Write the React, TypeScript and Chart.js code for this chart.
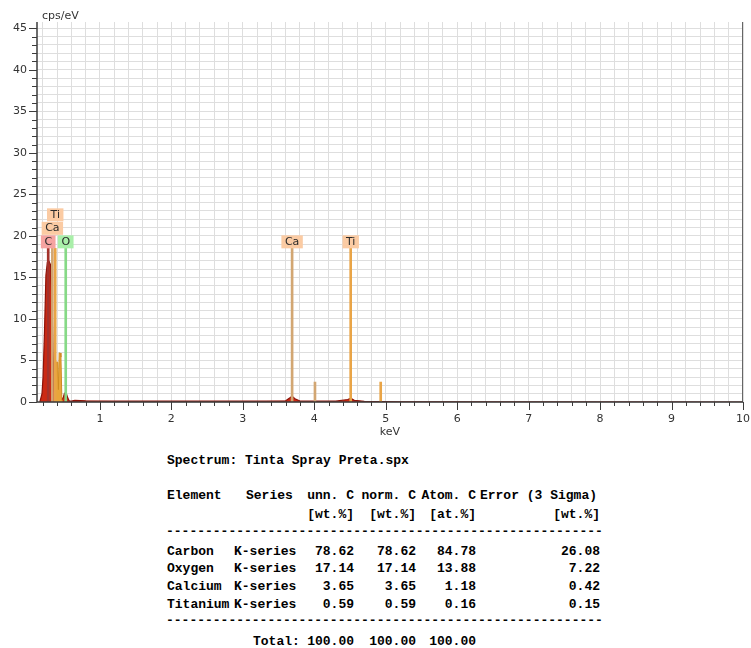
import React, { useEffect, useRef } from "react";
import { Chart, registerables } from "chart.js";

Chart.register(...registerables);

// ---- axis ranges ----
const xMin = 0.12;
const xMax = 10;
const xStep = 0.2;
const yMin = 0;
const yMax = 45.75;
const yStep = 1;
const yLabelEvery = 5;
const yAxisTitle = "cps/eV";
const xAxisTitle = "keV";

// ---- spectrum (dark red part: C K, O K and baseline) ----
const redSpectrumEnergy = [0.16, 0.19, 0.205, 0.225, 0.245, 0.265, 0.29, 0.31, 0.33, 0.345, 0.36, 0.38, 0.47, 0.49, 0.505, 0.52, 0.535, 0.55, 0.57, 0.6, 0.65, 0.8, 1.2, 2.0, 3.0, 3.6, 3.66, 3.69, 3.73, 3.8, 4.3, 4.47, 4.51, 4.56, 4.7, 5.2, 10];
const redSpectrumCounts = [0, 1, 3, 8.5, 15.3, 16.8, 16.9, 16.5, 12, 6, 1.5, 0.3, 0.3, 0.6, 1.05, 1.1, 0.9, 0.5, 0.15, 0.1, 0.2, 0.15, 0.12, 0.1, 0.1, 0.15, 0.5, 0.7, 0.4, 0.12, 0.1, 0.3, 0.45, 0.2, 0.08, 0.03, 0];

// ---- spectrum (orange part: Ca L / Ti L) ----
const orangeSpectrumEnergy = [0.37, 0.385, 0.41, 0.42, 0.43, 0.445, 0.455, 0.468, 0.48];
const orangeSpectrumCounts = [0, 4.8, 4.8, 1.5, 5.9, 5.9, 5.4, 0.3, 0];

// ---- element lines ----
const lineElement = ["C", "Ca", "Ti", "O", "Ca", "Ca", "Ti", "Ti"];
const lineEnergy = [0.277, 0.335, 0.375, 0.522, 3.69, 4.01, 4.51, 4.93];
const lineIntensity = [18.5, 18.5, 18.5, 18.5, 18.5, 2.4, 18.5, 2.4];
const lineLabeled = [true, true, true, true, true, false, true, false];

const elementLineColor: Record<string, string> = { C: "#a3322b", Ca: "#d2a672", Ti: "#e9a446", O: "#86d986" };
const elementBoxColor: Record<string, string> = { C: "#f5a3a0", Ca: "#fbcba3", Ti: "#fbcba3", O: "#a9efa9" };

// ---- quantification table ----
const spectrumTitle = "Spectrum: Tinta Spray Preta.spx";
const headerCols = ["Element", "Series", "unn. C", "norm. C", "Atom. C", "Error (3 Sigma)"];
const unitCols = ["[wt.%]", "[wt.%]", "[at.%]", "[wt.%]"];
const tableElements = ["Carbon", "Oxygen", "Calcium", "Titanium"];
const tableSeries = ["K-series", "K-series", "K-series", "K-series"];
const unnC = ["78.62", "17.14", "3.65", "0.59"];
const normC = ["78.62", "17.14", "3.65", "0.59"];
const atomC = ["84.78", "13.88", "1.18", "0.16"];
const errorC = ["26.08", "7.22", "0.42", "0.15"];
const totalLabel = "Total:";
const totals = ["100.00", "100.00", "100.00"];
const dashLine = "-".repeat(56);

const tickFont = { family: "'DejaVu Sans', Verdana, sans-serif", size: 11 };

const xTickValues: number[] = [];
for (let i = 1; i <= Math.round(xMax / xStep); i++) xTickValues.push(Math.round(i * xStep * 1000) / 1000);
const yTickValues: number[] = [];
for (let i = 0; i <= Math.floor(yMax / yStep); i++) yTickValues.push(i * yStep);

const overlayPlugin = {
  id: "overlay",
  afterDatasetsDraw(chart: any) {
    const ctx: CanvasRenderingContext2D = chart.ctx;
    const { left, right, top, bottom } = chart.chartArea;
    const xs = chart.scales.x;
    const ys = chart.scales.y;
    ctx.save();
    // right border
    ctx.strokeStyle = "#666";
    ctx.lineWidth = 1;
    ctx.beginPath();
    ctx.moveTo(Math.round(right) - 0.5, top);
    ctx.lineTo(Math.round(right) - 0.5, bottom);
    ctx.stroke();
    // axis lines
    ctx.strokeStyle = "#3c3c3c";
    ctx.lineWidth = 1.5;
    ctx.beginPath();
    ctx.moveTo(left, top);
    ctx.lineTo(left, bottom);
    ctx.lineTo(right, bottom);
    ctx.stroke();
    // tick marks
    ctx.lineWidth = 1;
    ctx.beginPath();
    xTickValues.forEach((v) => {
      const major = Math.abs(v - Math.round(v)) < 1e-6;
      const px = Math.round(xs.getPixelForValue(v)) + 0.5;
      ctx.moveTo(px, bottom);
      ctx.lineTo(px, bottom + (major ? 8 : 4));
    });
    yTickValues.forEach((v) => {
      const major = v % yLabelEvery === 0;
      const py = Math.round(ys.getPixelForValue(v)) + 0.5;
      ctx.moveTo(left, py);
      ctx.lineTo(left - (major ? 8 : 5), py);
    });
    ctx.stroke();

    // axis titles
    ctx.fillStyle = "#333";
    ctx.font = `11px ${tickFont.family}`;
    ctx.textBaseline = "middle";
    ctx.textAlign = "left";
    ctx.fillText(yAxisTitle, left + 5, top - 6);
    ctx.textAlign = "center";
    ctx.fillText(xAxisTitle, (left + right) / 2, bottom + 30);

    // element labels
    const meta = chart.getDatasetMeta(0);
    const placed: { l: number; r: number; level: number }[] = [];
    const boxH = 13.5;
    meta.data.forEach((el: any, i: number) => {
      if (!lineLabeled[i]) return;
      const name = lineElement[i];
      const w = ctx.measureText(name).width + 7;
      const l = el.x - w / 2;
      const r = el.x + w / 2;
      let level = 0;
      while (placed.some((p) => p.level === level && p.l < r && p.r > l)) level++;
      placed.push({ l, r, level });
      const b = el.y - level * boxH;
      ctx.fillStyle = elementBoxColor[name];
      ctx.fillRect(l, b - boxH + 0.5, w, boxH - 0.5);
      ctx.fillStyle = "#2a2a2a";
      ctx.textAlign = "center";
      ctx.fillText(name, el.x, b - boxH / 2 + 0.5);
    });
    ctx.restore();
  },
};

function SpectrumChart() {
  const ref = useRef<HTMLCanvasElement | null>(null);
  useEffect(() => {
    if (!ref.current) return;
    const chart = new Chart(ref.current, {
      type: "line",
      data: {
        datasets: [
          {
            type: "bar",
            data: lineEnergy.map((e, i) => ({ x: e, y: lineIntensity[i] })),
            backgroundColor: lineElement.map((n) => elementLineColor[n]),
            barThickness: 2,
            grouped: false,
            order: 0,
          } as any,
          {
            data: orangeSpectrumEnergy.map((e, i) => ({ x: e, y: orangeSpectrumCounts[i] })),
            borderColor: "#d08a20",
            backgroundColor: "#e9a63a",
            borderWidth: 1,
            pointRadius: 0,
            fill: "origin",
            tension: 0,
            order: 1,
          },
          {
            data: redSpectrumEnergy.map((e, i) => ({ x: e, y: redSpectrumCounts[i] })),
            borderColor: "#8c1208",
            backgroundColor: "#cc2a14",
            borderWidth: 1.2,
            pointRadius: 0,
            fill: "origin",
            tension: 0,
            order: 2,
          },
        ],
      },
      options: {
        animation: false,
        responsive: false,
        devicePixelRatio: 1,
        events: [],
        layout: { padding: { top: 22, right: 8, left: 0, bottom: 0 } },
        plugins: { legend: { display: false }, tooltip: { enabled: false } },
        scales: {
          x: {
            type: "linear",
            min: xMin,
            max: xMax,
            offset: false,
            border: { display: false },
            grid: { color: "#dedede", lineWidth: 1, drawTicks: false, offset: false },
            ticks: {
              autoSkip: false,
              maxRotation: 0,
              padding: 11,
              color: "#333",
              font: tickFont,
              callback: (v: any) => {
                const n = Number(v);
                return Math.abs(n - Math.round(n)) < 1e-6 && n >= 1 ? String(Math.round(n)) : "";
              },
            },
            afterBuildTicks: (s: any) => {
              s.ticks = xTickValues.map((v) => ({ value: v }));
            },
            afterFit: (s: any) => {
              s.height = 43;
              s.paddingLeft = 0;
              s.paddingRight = 0;
            },
          },
          y: {
            min: yMin,
            max: yMax,
            border: { display: false },
            grid: { color: "#dedede", lineWidth: 1, drawTicks: false },
            ticks: {
              autoSkip: false,
              padding: 10,
              color: "#333",
              font: tickFont,
              callback: (v: any) => {
                const n = Number(v);
                return Math.abs(n % yLabelEvery) < 1e-6 ? String(n) : "";
              },
            },
            afterBuildTicks: (s: any) => {
              s.ticks = yTickValues.map((v) => ({ value: v }));
            },
            afterFit: (s: any) => {
              s.width = 37;
              s.paddingTop = 0;
              s.paddingBottom = 0;
            },
          },
        },
      },
      plugins: [overlayPlugin],
    });
    return () => chart.destroy();
  }, []);
  return <canvas ref={ref} width={751} height={445} style={{ position: "absolute", left: 0, top: 0 }} />;
}

const mono: React.CSSProperties = {
  position: "absolute",
  fontFamily: "'Liberation Mono', 'DejaVu Sans Mono', monospace",
  fontWeight: "bold",
  fontSize: 13,
  lineHeight: "16px",
  whiteSpace: "pre",
  color: "#000",
};

function L({ x, c, t }: { x: number; c: number; t: string }) {
  return <div style={{ ...mono, left: x, top: c - 7 }}>{t}</div>;
}
function R({ x, c, t }: { x: number; c: number; t: string }) {
  return <div style={{ ...mono, left: x - 200, width: 200, textAlign: "right", top: c - 7 }}>{t}</div>;
}

export default function App() {
  const rights = [354, 416, 476, 600];
  const rowC = [551, 568, 586, 603.5];
  return (
    <div style={{ position: "absolute", left: 0, top: 0, width: 751, height: 648, background: "#fff", overflow: "hidden" }}>
      <SpectrumChart />
      <L x={167} c={460} t={spectrumTitle} />
      <L x={167} c={495} t={headerCols[0]} />
      <L x={246} c={495} t={headerCols[1]} />
      {headerCols.slice(2).map((h, i) => (
        <R key={"h" + i} x={rights[i] - (i === 3 ? 3 : 0)} c={495} t={h} />
      ))}
      {unitCols.map((u, i) => (
        <R key={"u" + i} x={rights[i]} c={514} t={u} />
      ))}
      <div style={{ ...mono, left: 166, top: 524 }}>{dashLine}</div>
      {tableElements.map((el, r) => (
        <React.Fragment key={el}>
          <L x={167} c={rowC[r]} t={el} />
          <L x={234} c={rowC[r]} t={tableSeries[r]} />
          <R x={rights[0]} c={rowC[r]} t={unnC[r]} />
          <R x={rights[1]} c={rowC[r]} t={normC[r]} />
          <R x={rights[2]} c={rowC[r]} t={atomC[r]} />
          <R x={rights[3]} c={rowC[r]} t={errorC[r]} />
        </React.Fragment>
      ))}
      <div style={{ ...mono, left: 166, top: 612.5 }}>{dashLine}</div>
      <L x={253} c={641} t={totalLabel} />
      {totals.map((t, i) => (
        <R key={"t" + i} x={rights[i]} c={641} t={t} />
      ))}
    </div>
  );
}
